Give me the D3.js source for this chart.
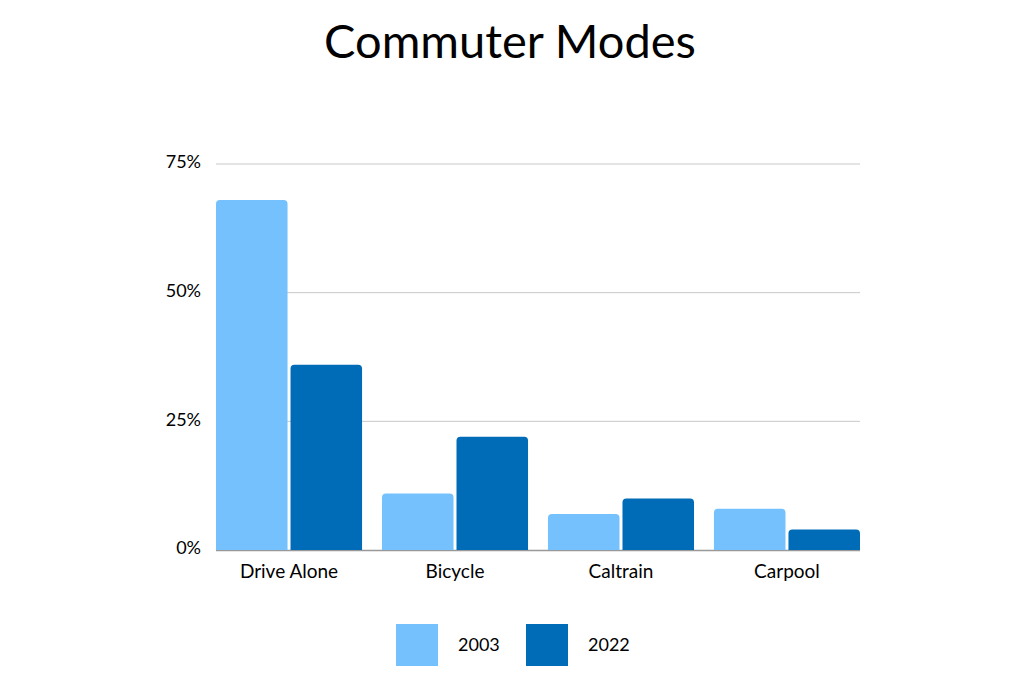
<!DOCTYPE html>
<html>
<head>
<meta charset="utf-8">
<script src="https://cdn.jsdelivr.net/npm/d3@7"></script>
<style>
    body { margin: 0; background: #fff; }
    text { font-family: Lato, "Open Sans", sans-serif; fill: #000; }
</style>
</head>
<body>
<div id="chart"></div>
<script>
const categories = ["Drive Alone", "Bicycle", "Caltrain", "Carpool"];
const years = ["2003", "2022"];
const values2003 = [68, 11, 7, 8];
const values2022 = [36, 22, 10, 4];
const yTicks = [0, 25, 50, 75];

const width = 1016, height = 684;
const margin = { top: 164, right: 156, bottom: 134, left: 216 };
const colors = { "2003": "#75c1fd", "2022": "#006cb7" };

const svg = d3.select("#chart").append("svg")
    .attr("width", width)
    .attr("height", height);

const x0 = d3.scaleBand()
    .domain(categories)
    .range([margin.left, width - margin.right])
    .paddingInner(0.12)
    .paddingOuter(0);

const x1 = d3.scaleBand()
    .domain(years)
    .range([0, x0.bandwidth()])
    .paddingInner(0.04);

const y = d3.scaleLinear()
    .domain([0, 75])
    .range([height - margin.bottom, margin.top]);

// title
svg.append("text")
    .attr("x", width / 2 + 2)
    .attr("y", 58)
    .attr("text-anchor", "middle")
    .style("font-size", "47px")
    .text("Commuter Modes");

// grid
svg.selectAll(".grid")
    .data(yTicks.filter(d => d > 0))
    .enter()
    .append("line")
    .attr("x1", margin.left)
    .attr("x2", width - margin.right)
    .attr("y1", d => y(d))
    .attr("y2", d => y(d))
    .attr("stroke", "#c8c8c8")
    .attr("stroke-width", 1);

// y labels
svg.selectAll(".ylab")
    .data(yTicks)
    .enter()
    .append("text")
    .attr("x", 201)
    .attr("y", d => y(d) - 2)
    .attr("dy", "0.35em")
    .attr("text-anchor", "end")
    .style("font-size", "18px")
    .text(d => d + "%");

// bars
const rows = categories.map((c, i) => ({
    category: c,
    values: [
        { year: "2003", value: values2003[i] },
        { year: "2022", value: values2022[i] }
    ]
}));

const r = 4;
function topRounded(x, yTop, w, yBottom) {
    const h = yBottom - yTop;
    const rr = Math.min(r, h, w / 2);
    return `M${x},${yBottom}V${yTop + rr}Q${x},${yTop} ${x + rr},${yTop}` +
        `H${x + w - rr}Q${x + w},${yTop} ${x + w},${yTop + rr}V${yBottom}Z`;
}

const groups = svg.selectAll(".group")
    .data(rows)
    .enter()
    .append("g")
    .attr("transform", d => `translate(${x0(d.category)},0)`);

groups.selectAll("path")
    .data(d => d.values)
    .enter()
    .append("path")
    .attr("d", d => topRounded(x1(d.year), y(d.value), x1.bandwidth(), y(0)))
    .attr("fill", d => colors[d.year]);

// baseline
svg.append("line")
    .attr("x1", margin.left)
    .attr("x2", width - margin.right)
    .attr("y1", y(0) + 0.5)
    .attr("y2", y(0) + 0.5)
    .attr("stroke", "#999")
    .attr("stroke-width", 1.5)
    .lower();

// x labels
svg.selectAll(".xlab")
    .data(categories)
    .enter()
    .append("text")
    .attr("x", d => x0(d) + x0.bandwidth() / 2)
    .attr("y", y(0) + 28)
    .attr("text-anchor", "middle")
    .style("font-size", "19px")
    .text(d => d);

// legend
const legend = svg.selectAll(".legend")
    .data(years)
    .enter()
    .append("g")
    .attr("transform", (d, i) => `translate(${396 + i * 130},624)`);

legend.append("rect")
    .attr("width", 42)
    .attr("height", 42)
    .attr("fill", d => colors[d]);

legend.append("text")
    .attr("x", 62)
    .attr("y", 21)
    .attr("dy", "0.35em")
    .style("font-size", "18px")
    .text(d => d);
</script>
</body>
</html>
